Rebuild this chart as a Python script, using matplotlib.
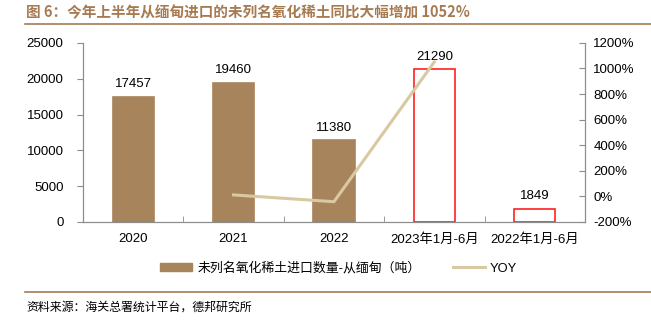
import matplotlib.pyplot as plt
from matplotlib.lines import Line2D
from matplotlib.ticker import FuncFormatter
import numpy as np

plt.rcParams['font.family'] = ['Liberation Sans', 'Noto Sans CJK SC', 'DejaVu Sans']

categories = ['2020', '2021', '2022', '2023年1月-6月', '2022年1月-6月']
volume = [17457, 19460, 11380, 21290, 1849]
yoy_idx = [1, 2, 3]
yoy = [11.5, -41.5, 1052]

brown = '#A8845C'
beige = '#D9C9A2'
red = '#FF2020'
grey = '#8C8C8C'

fig = plt.figure(figsize=(6.51, 3.25), dpi=100)
ax = fig.add_axes([0.1275, 0.317, 0.771, 0.551])
ax2 = ax.twinx()

x = np.arange(len(categories))
width = 0.41
face = [brown, brown, brown, 'white', 'white']
edge = [brown, brown, brown, red, red]
ax.bar(x, volume, width, color=face, edgecolor=edge, linewidth=1.2, zorder=2)
for xi, v in zip(x, volume):
    ax.text(xi, v + 900, str(v), ha='center', va='bottom', fontsize=9.5, clip_on=False)

# growth line sits on the twin axis, drawn over the bars
ax2.plot(x[yoy_idx], yoy, color=beige, linewidth=2.2, zorder=3)

ax.set_xlim(-0.5, len(categories) - 0.5)
ax.set_ylim(0, 25000)
ax.set_yticks(range(0, 25001, 5000))
ax2.set_ylim(-200, 1200)
ax2.set_yticks(range(-200, 1201, 200))
ax2.yaxis.set_major_formatter(FuncFormatter(lambda v, p: f'{int(v)}%'))

ax.set_xticks(x)
ax.set_xticklabels(categories, fontsize=9.5)
ax.set_xticks(np.arange(-0.5, len(categories)), minor=True)
ax.tick_params(axis='x', which='major', length=0, pad=8)
ax.tick_params(axis='x', which='minor', length=4, direction='in', color=grey)
ax.tick_params(axis='y', length=4, color=grey, labelsize=9.5, pad=10)
ax2.tick_params(axis='y', length=4, direction='in', color=grey, labelsize=9.5, pad=6)

for a in (ax, ax2):
    a.spines['top'].set_visible(False)
    for s in ('left', 'right', 'bottom'):
        a.spines[s].set_color(grey)
        a.spines[s].set_linewidth(0.8)

handles = [plt.Rectangle((0, 0), 1, 1, color=brown),
           Line2D([0], [0], color=beige, linewidth=2.2)]
labels = ['未列名氧化稀土进口数量-从缅甸（吨）', 'YOY']
fig.legend(handles, labels, loc='center', bbox_to_anchor=(0.52, 0.175), ncol=2,
           frameon=False, fontsize=9.3, columnspacing=2.5, handlelength=2.5,
           handleheight=0.6, handletextpad=0.4)

fig.text(0.04, 0.962, '图 6：今年上半年从缅甸进口的未列名氧化稀土同比大幅增加 1052%',
         color='#A67B52', fontsize=10.5, fontweight='bold', va='center',
         family=['Noto Sans CJK SC', 'DejaVu Sans'])
fig.add_artist(Line2D([0.038, 1.0], [0.926, 0.926], color='#A67B52', linewidth=1.2))
fig.add_artist(Line2D([0.038, 1.0], [0.103, 0.103], color='#A67B52', linewidth=1.2))
fig.text(0.04, 0.055, '资料来源：海关总署统计平台，德邦研究所', fontsize=8.6, va='center',
         family=['Noto Sans CJK SC', 'DejaVu Sans'])

fig.savefig('out.png', dpi=100)
